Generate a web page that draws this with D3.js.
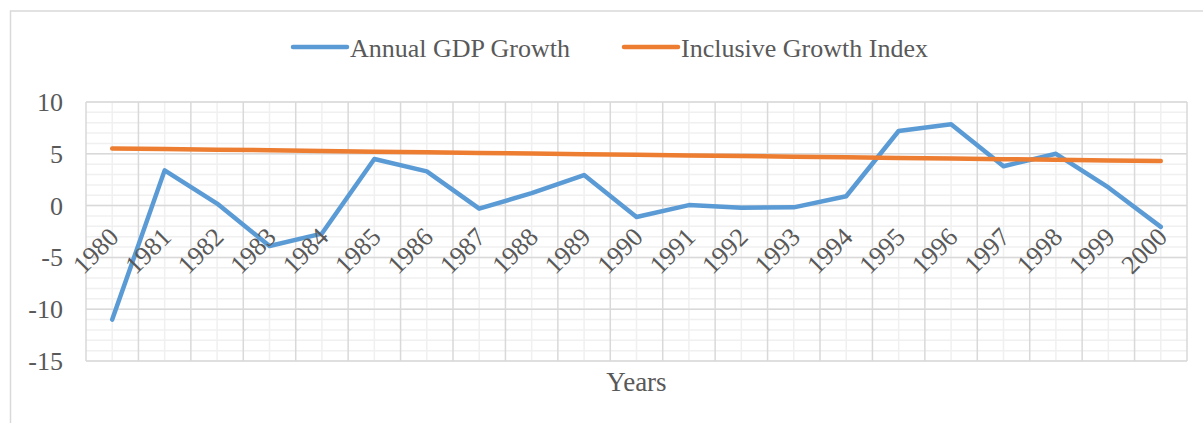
<!DOCTYPE html>
<html>
<head>
<meta charset="utf-8">
<script src="https://cdn.jsdelivr.net/npm/d3@7"></script>
<style>
  body { margin: 0; background: #fff; }
  text { font-family: "Liberation Serif", "Times New Roman", serif; fill: #595959; }
</style>
</head>
<body>
<div id="chart"></div>
<script>
const years = ['1980', '1981', '1982', '1983', '1984', '1985', '1986', '1987', '1988', '1989', '1990',
  '1991', '1992', '1993', '1994', '1995', '1996', '1997', '1998', '1999', '2000']
const gdpGrowth = [-11.0, 3.4, 0.2, -3.9, -2.7, 4.5, 3.3, -0.3, 1.2, 2.95, -1.1,
  0.05, -0.2, -0.17, 0.9, 7.2, 7.85, 3.8, 5.0, 1.75, -2.05]
const inclusiveIndex = [5.52, 5.46, 5.4, 5.34, 5.27, 5.2, 5.14, 5.08, 5.02, 4.96, 4.9,
  4.84, 4.78, 4.72, 4.66, 4.6, 4.54, 4.48, 4.42, 4.36, 4.3]
const yTicks = [-15, -10, -5, 0, 5, 10]
const seriesNames = ['Annual GDP Growth', 'Inclusive Growth Index']
const seriesColors = ['#5b9bd5', '#ed7d31']

const width = 1203
const height = 423
const plot = { left: 86, right: 1187, top: 102, bottom: 361 }

const svg = d3.select('#chart').append('svg')
  .attr('width', width)
  .attr('height', height)

// chart area border (runs off the right and bottom of the picture)
svg.append('rect')
  .attr('x', 10.5)
  .attr('y', 11)
  .attr('width', 1300)
  .attr('height', 500)
  .attr('fill', 'none')
  .attr('stroke', '#d9d9d9')
  .attr('stroke-width', 1.5)

const x = d3.scaleBand().domain(years).range([plot.left, plot.right]).padding(0)
const y = d3.scaleLinear().domain([-15, 10]).range([plot.bottom, plot.top])

const grid = svg.append('g')

// minor gridlines
grid.selectAll('.hminor')
  .data(d3.range(-15, 11, 1))
  .join('line')
  .attr('x1', plot.left).attr('x2', plot.right)
  .attr('y1', d => y(d)).attr('y2', d => y(d))
  .attr('stroke', '#f0f0f0')
  .attr('stroke-width', 1.5)
grid.selectAll('.vminor')
  .data(years)
  .join('line')
  .attr('x1', d => x(d) + x.bandwidth() / 2).attr('x2', d => x(d) + x.bandwidth() / 2)
  .attr('y1', plot.top).attr('y2', plot.bottom)
  .attr('stroke', '#f0f0f0')
  .attr('stroke-width', 1.5)

// major gridlines
grid.selectAll('.hmajor')
  .data(yTicks)
  .join('line')
  .attr('x1', plot.left).attr('x2', plot.right)
  .attr('y1', d => y(d)).attr('y2', d => y(d))
  .attr('stroke', '#d9d9d9')
  .attr('stroke-width', 1.5)
grid.selectAll('.vmajor')
  .data(years.concat(['end']))
  .join('line')
  .attr('x1', d => d === 'end' ? plot.right : x(d))
  .attr('x2', d => d === 'end' ? plot.right : x(d))
  .attr('y1', plot.top).attr('y2', plot.bottom)
  .attr('stroke', '#d9d9d9')
  .attr('stroke-width', 1.5)

// y axis labels
svg.append('g')
  .selectAll('text')
  .data(yTicks)
  .join('text')
  .attr('x', 63)
  .attr('y', d => y(d) + 9)
  .attr('text-anchor', 'end')
  .attr('font-size', 26)
  .text(d => d)

// lines
const line = d3.line()
  .x((d, i) => x(years[i]) + x.bandwidth() / 2)
  .y(d => y(d))

;[gdpGrowth, inclusiveIndex].forEach((s, i) => {
  svg.append('path')
    .datum(s)
    .attr('d', line)
    .attr('fill', 'none')
    .attr('stroke', seriesColors[i])
    .attr('stroke-width', 4.5)
    .attr('stroke-linecap', 'round')
    .attr('stroke-linejoin', 'round')
})

// category labels, rotated, sitting at the zero line
svg.append('g')
  .selectAll('text')
  .data(years)
  .join('text')
  .attr('transform', d => 'translate(' + (x(d) + x.bandwidth() / 2 + 8) + ',' + (y(0) + 33) + ') rotate(-45)')
  .attr('text-anchor', 'end')
  .attr('font-size', 26)
  .text(d => d)

// axis title
svg.append('text')
  .attr('x', (plot.left + plot.right) / 2)
  .attr('y', 391)
  .attr('text-anchor', 'middle')
  .attr('font-size', 27)
  .text('Years')

// legend
const legendX = [291, 622]
seriesNames.forEach((name, i) => {
  const g = svg.append('g').attr('transform', 'translate(' + legendX[i] + ',47)')
  g.append('line')
    .attr('x1', 2).attr('x2', 56)
    .attr('stroke', seriesColors[i])
    .attr('stroke-width', 4.5)
    .attr('stroke-linecap', 'round')
  g.append('text')
    .attr('x', 59)
    .attr('y', 10)
    .attr('font-size', 26)
    .text(name)
})
</script>
</body>
</html>
